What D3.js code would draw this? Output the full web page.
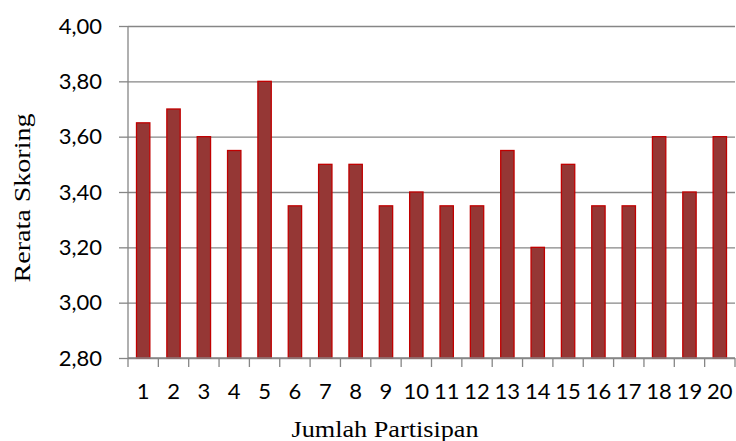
<!DOCTYPE html>
<html lang="id">
<head>
<meta charset="UTF-8">
<title>Rerata Skoring</title>
<style>
    body { margin: 0; background: #fff; }
    .tick text { font-family: Lato, "Open Sans", sans-serif; font-size: 22px; fill: #000; }
    .judul { font-family: "Liberation Serif", "DejaVu Serif", serif; font-size: 24px; fill: #000; }
</style>
</head>
<body>
<script src="https://d3js.org/d3.v7.min.js"></script>
<script>
var width = 736, height = 441;
// area plot
var margin = { left: 128, right: 1, top: 26, bottom: 83 };

// data
var peserta = ["1","2","3","4","5","6","7","8","9","10","11","12","13","14","15","16","17","18","19","20"];
var skor = [3.65, 3.70, 3.60, 3.55, 3.80, 3.35, 3.50, 3.50, 3.35, 3.40, 3.35, 3.35, 3.55, 3.20, 3.50, 3.35, 3.35, 3.60, 3.40, 3.60];
var yTicks = [2.8, 3.0, 3.2, 3.4, 3.6, 3.8, 4.0];

var svg = d3.select("body").append("svg").attr("width", width).attr("height", height);

var x = d3.scaleBand()
    .domain(peserta)
    .range([margin.left, width - margin.right])
    .paddingInner(0.56).paddingOuter(0.28);

var y = d3.scaleLinear()
    .domain([2.8, 4.0])
    .range([height - margin.bottom, margin.top]);

var fmt = function(d) { return d3.format(".2f")(d).replace(".", ","); };

// sumbu y dengan garis grid
var gy = svg.append("g")
    .attr("transform", "translate(" + margin.left + ",0)")
    .call(d3.axisLeft(y).tickValues(yTicks).tickFormat(fmt)
        .tickSize(-(width - margin.left - margin.right)).tickPadding(26));
gy.select(".domain").remove();
gy.selectAll(".tick line").attr("stroke", "#868686").attr("stroke-width", 1.3);
// tanda kecil di kiri sumbu
gy.selectAll(".tick").append("line")
    .attr("x1", -9).attr("x2", 0)
    .attr("stroke", "#868686").attr("stroke-width", 1.3);
gy.append("line")
    .attr("x1", 0).attr("x2", 0)
    .attr("y1", y(2.8)).attr("y2", y(4.0))
    .attr("stroke", "#868686").attr("stroke-width", 1.3);

// batang
svg.selectAll(".bar")
    .data(skor)
    .enter()
    .append("rect")
    .attr("class", "bar")
    .attr("x", function(d, i) { return x(peserta[i]); })
    .attr("y", function(d) { return y(d); })
    .attr("width", x.bandwidth())
    .attr("height", function(d) { return y(2.8) - y(d); })
    .attr("fill", "#953735")
    .attr("stroke", "#c00000")
    .attr("stroke-width", 1.3);

// sumbu x
var step = x.step();
var gx = svg.append("g")
    .attr("transform", "translate(0," + y(2.8) + ")")
    .call(d3.axisBottom(x).tickSize(0).tickPadding(25));
gx.select(".domain").remove();
gx.append("line")
    .attr("x1", margin.left).attr("x2", width - margin.right)
    .attr("stroke", "#868686").attr("stroke-width", 1.3);
gx.selectAll(".batas")
    .data(d3.range(peserta.length + 1))
    .enter()
    .append("line")
    .attr("x1", function(i) { return margin.left + i * step; })
    .attr("x2", function(i) { return margin.left + i * step; })
    .attr("y1", 0).attr("y2", 9)
    .attr("stroke", "#868686").attr("stroke-width", 1.3);

// judul sumbu
svg.append("text")
    .attr("class", "judul")
    .attr("x", 385).attr("y", 437)
    .attr("text-anchor", "middle")
    .attr("textLength", 187).attr("lengthAdjust", "spacingAndGlyphs")
    .text("Jumlah Partisipan");
svg.append("text")
    .attr("class", "judul")
    .attr("transform", "translate(30,198) rotate(-90)")
    .attr("text-anchor", "middle")
    .attr("textLength", 169).attr("lengthAdjust", "spacingAndGlyphs")
    .text("Rerata Skoring");
</script>
</body>
</html>
